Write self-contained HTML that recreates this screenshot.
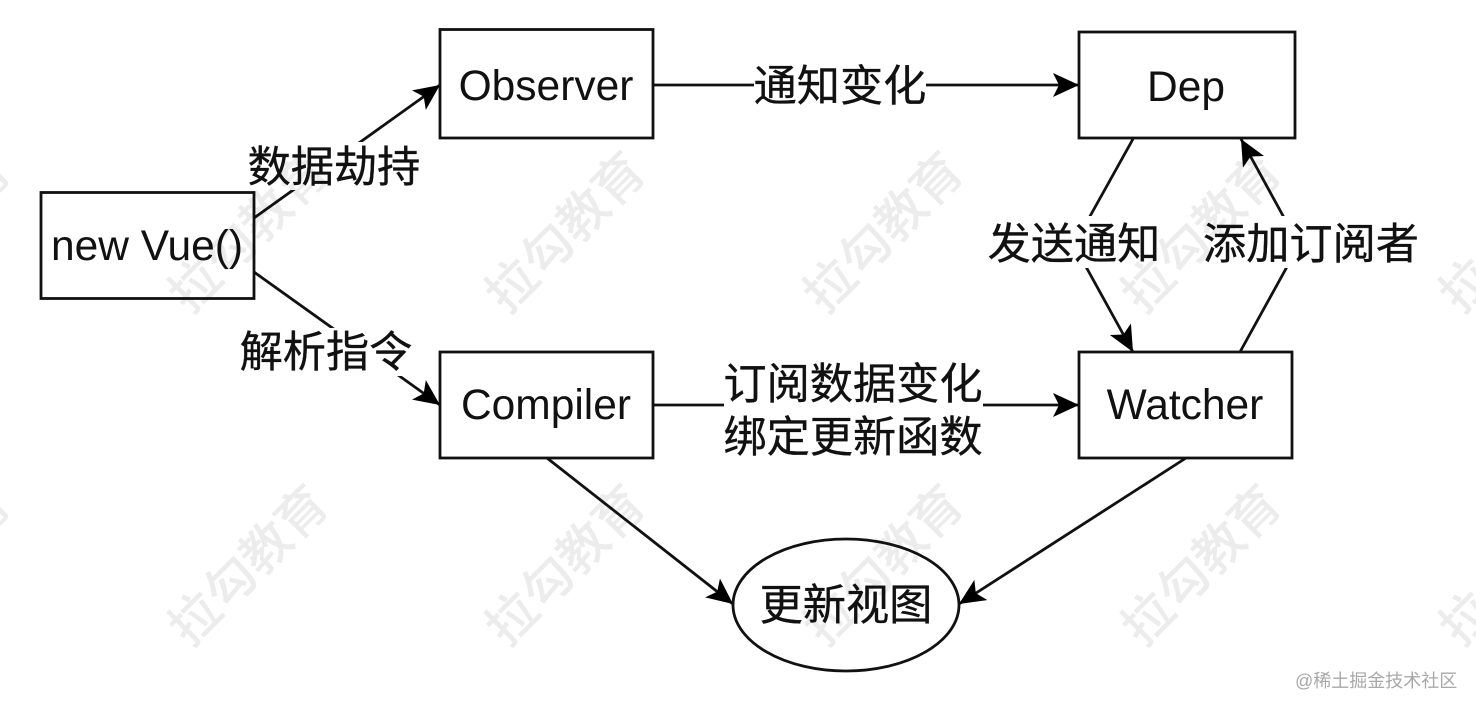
<!DOCTYPE html>
<html>
<head>
<meta charset="utf-8">
<style>
html,body{margin:0;padding:0;background:#fff;}
svg{display:block;}
text{font-family:"Liberation Sans","Noto Sans CJK SC",sans-serif;fill:#111;}
.n{font-size:42.5px;text-anchor:middle;}
.c{font-size:43.2px;text-anchor:middle;stroke:#111;stroke-width:0.35px;}
.w{font-size:50px;fill:#ececec;text-anchor:middle;font-weight:500;}
.wm{mix-blend-mode:multiply;}
</style>
</head>
<body>
<svg width="1476" height="711" viewBox="0 0 1476 711" xmlns="http://www.w3.org/2000/svg">
<defs>
<marker id="a" markerWidth="30" markerHeight="24" refX="26" refY="12" orient="auto" markerUnits="userSpaceOnUse">
<path d="M0 0L26 12L0 24L6 12Z" fill="#000"/>
</marker>
</defs>
<rect width="1476" height="711" fill="#fff"/>
<g fill="none" stroke="#111" stroke-width="2.8">
<path d="M254 218L440 85" marker-end="url(#a)"/>
<path d="M254 272L440 405" marker-end="url(#a)"/>
<path d="M653 85H1079" marker-end="url(#a)"/>
<path d="M653 405H1079" marker-end="url(#a)"/>
<path d="M1133 139L1074 245L1133 352" marker-end="url(#a)"/>
<path d="M1240 352L1299 245L1241 139" marker-end="url(#a)"/>
<path d="M547 458L733 604" marker-end="url(#a)"/>
<path d="M1186 458L959 604" marker-end="url(#a)"/>
</g>
<g fill="#fff">
<rect x="246" y="142" width="176" height="48"/>
<rect x="238" y="328" width="176" height="48"/>
<rect x="754" y="60" width="172" height="50"/>
<rect x="724" y="360" width="259" height="98"/>
<rect x="986" y="216" width="176" height="52"/>
<rect x="1202" y="216" width="216" height="52"/>
</g>
<g fill="#fff" stroke="#111" stroke-width="2.8">
<rect x="41" y="192.500" width="213" height="106"/>
<rect x="440" y="29.500" width="213" height="108.500"/>
<rect x="1079" y="32" width="216" height="106"/>
<rect x="440" y="352" width="213" height="106"/>
<rect x="1079" y="352" width="213" height="106"/>
<ellipse cx="846" cy="605" rx="113" ry="66"/>
</g>
<text class="n" x="147" y="260">new Vue()</text>
<text class="n" x="546" y="100">Observer</text>
<text class="n" x="1186" y="101">Dep</text>
<text class="n" x="546" y="419">Compiler</text>
<text class="n" x="1185" y="419">Watcher</text>
<text class="c" x="846" y="620">更新视图</text>
<text class="c" x="334" y="182">数据劫持</text>
<text class="c" x="326" y="367">解析指令</text>
<text class="c" x="840" y="101">通知变化</text>
<text class="c" x="853" y="399">订阅数据变化</text>
<text class="c" x="853" y="452">绑定更新函数</text>
<text class="c" x="1074" y="259">发送通知</text>
<text class="c" x="1311" y="259">添加订阅者</text>
<text x="1295" y="687" font-size="18" style="fill:#a8a8a8">@稀土掘金技术社区</text>
<g class="wm">
<text class="w" transform="translate(-70,232) rotate(-45)" y="18">拉勾教育</text>
<text class="w" transform="translate(248,232) rotate(-45)" y="18">拉勾教育</text>
<text class="w" transform="translate(565,232) rotate(-45)" y="18">拉勾教育</text>
<text class="w" transform="translate(883,232) rotate(-45)" y="18">拉勾教育</text>
<text class="w" transform="translate(1201,232) rotate(-45)" y="18">拉勾教育</text>
<text class="w" transform="translate(1519,232) rotate(-45)" y="18">拉勾教育</text>
<text class="w" transform="translate(-70,565) rotate(-45)" y="18">拉勾教育</text>
<text class="w" transform="translate(248,565) rotate(-45)" y="18">拉勾教育</text>
<text class="w" transform="translate(565,565) rotate(-45)" y="18">拉勾教育</text>
<text class="w" transform="translate(883,565) rotate(-45)" y="18">拉勾教育</text>
<text class="w" transform="translate(1201,565) rotate(-45)" y="18">拉勾教育</text>
<text class="w" transform="translate(1519,565) rotate(-45)" y="18">拉勾教育</text>
</g>
</svg>
</body>
</html>
